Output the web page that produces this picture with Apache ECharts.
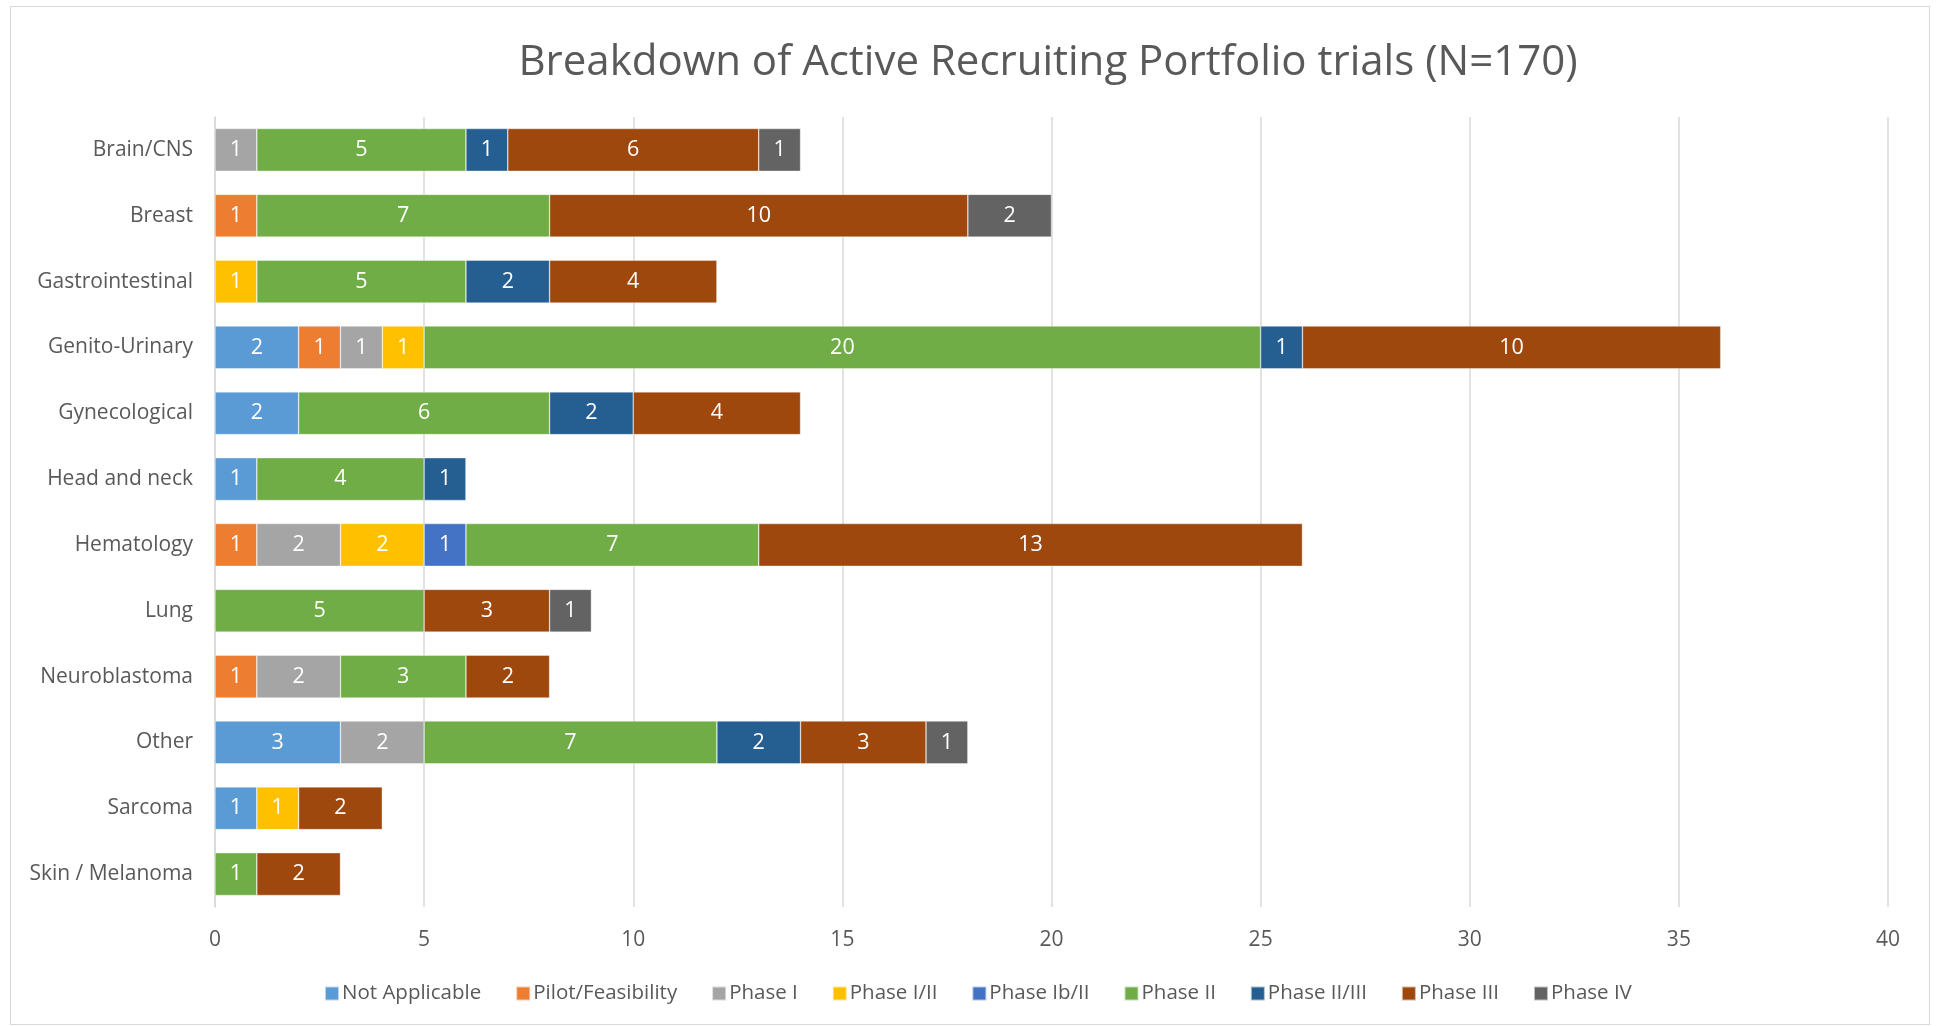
<!DOCTYPE html>
<html>
<head>
<meta charset="utf-8">
<script src="https://cdn.jsdelivr.net/npm/echarts@6/dist/echarts.min.js"></script>
<style>
html,body{margin:0;padding:0;background:#fff;}
#frame{position:absolute;left:10px;top:6px;width:1918px;height:1017px;border:1px solid #d9d9d9;}
#chart{position:absolute;left:0;top:0;width:1939px;height:1026px;}
</style>
</head>
<body>
<div id="frame"></div>
<div id="chart"></div>
<script>
// categories (top to bottom)
var categories = ['Brain/CNS','Breast','Gastrointestinal','Genito-Urinary','Gynecological','Head and neck',
	'Hematology','Lung','Neuroblastoma','Other','Sarcoma','Skin / Melanoma'];

var notApplicable = [0,0,0,2,2,1,0,0,0,3,1,0];
var pilotFeasibility = [0,1,0,1,0,0,1,0,1,0,0,0];
var phaseI = [1,0,0,1,0,0,2,0,2,2,0,0];
var phaseIandII = [0,0,1,1,0,0,2,0,0,0,1,0]; // Phase I/II
var phaseIbII = [0,0,0,0,0,0,1,0,0,0,0,0];
var phaseII = [5,7,5,20,6,4,7,5,3,7,0,1];
var phaseIIIII = [1,0,2,1,2,1,0,0,0,2,0,0];
var phaseIII = [6,10,4,10,4,0,13,3,2,3,2,2];
var phaseIV = [1,2,0,0,0,0,0,1,0,1,0,0];

var xTicks = [0,5,10,15,20,25,30,35,40];

var seriesDef = [
	['Not Applicable', notApplicable, '#5b9bd5'],
	['Pilot/Feasibility', pilotFeasibility, '#ed7d31'],
	['Phase I', phaseI, '#a5a5a5'],
	['Phase I/II', phaseIandII, '#ffc000'],
	['Phase Ib/II', phaseIbII, '#4472c4'],
	['Phase II', phaseII, '#70ad47'],
	['Phase II/III', phaseIIIII, '#255e91'],
	['Phase III', phaseIII, '#9e480e'],
	['Phase IV', phaseIV, '#636363']
];

var FONT = '"Open Sans", "Noto Sans", sans-serif';

function $each(arr, fn){ for(var i=0;i<arr.length;i++){ fn(arr[i], i); } }

var series = [];
$each(seriesDef, function(s){
	series.push({
		name: s[0],
		type: 'bar',
		stack: 'total',
		barCategoryGap: '35%',
		data: s[1].map(function(v){ return v ? v : null; }),
		itemStyle: { color: s[2], borderColor: 'rgba(255,255,255,0.6)', borderWidth: 0.6 },
		label: {
			show: true,
			position: 'inside',
			color: '#fff',
			fontFamily: FONT,
			fontSize: 21.5
		}
	});
});

var myChart = echarts.init(document.getElementById('chart'));
var option = {
	animation: false,
	backgroundColor: 'transparent',
	title: {
		text: 'Breakdown of Active Recruiting Portfolio trials (N=170)',
		left: 1043,
		textAlign: 'center',
		top: 37,
		textStyle: { fontFamily: FONT, fontSize: 42, fontWeight: 'normal', color: '#595959' }
	},
	legend: {
		left: 319,
		top: 978,
		icon: 'rect',
		itemWidth: 14,
		itemHeight: 14,
		itemGap: 34,
		textStyle: { fontFamily: FONT, fontSize: 20.5, color: '#595959', padding: [0,0,0,-2] },
		data: seriesDef.map(function(s){ return s[0]; })
	},
	grid: { left: 215, right: 51, top: 117, bottom: 119, containLabel: false },
	xAxis: {
		type: 'value',
		min: xTicks[0],
		max: xTicks[xTicks.length-1],
		interval: 5,
		axisLine: { show: false },
		axisTick: { show: false },
		axisLabel: { fontFamily: FONT, fontSize: 21, color: '#595959', margin: 23 },
		splitLine: { lineStyle: { color: '#d9d9d9', width: 1.5 } }
	},
	yAxis: {
		type: 'category',
		inverse: true,
		data: categories,
		axisLine: { lineStyle: { color: '#d9d9d9', width: 1.5 } },
		axisTick: { show: false },
		axisLabel: { fontFamily: FONT, fontSize: 21, color: '#595959', margin: 22 }
	},
	series: series
};
myChart.setOption(option);
</script>
</body>
</html>
